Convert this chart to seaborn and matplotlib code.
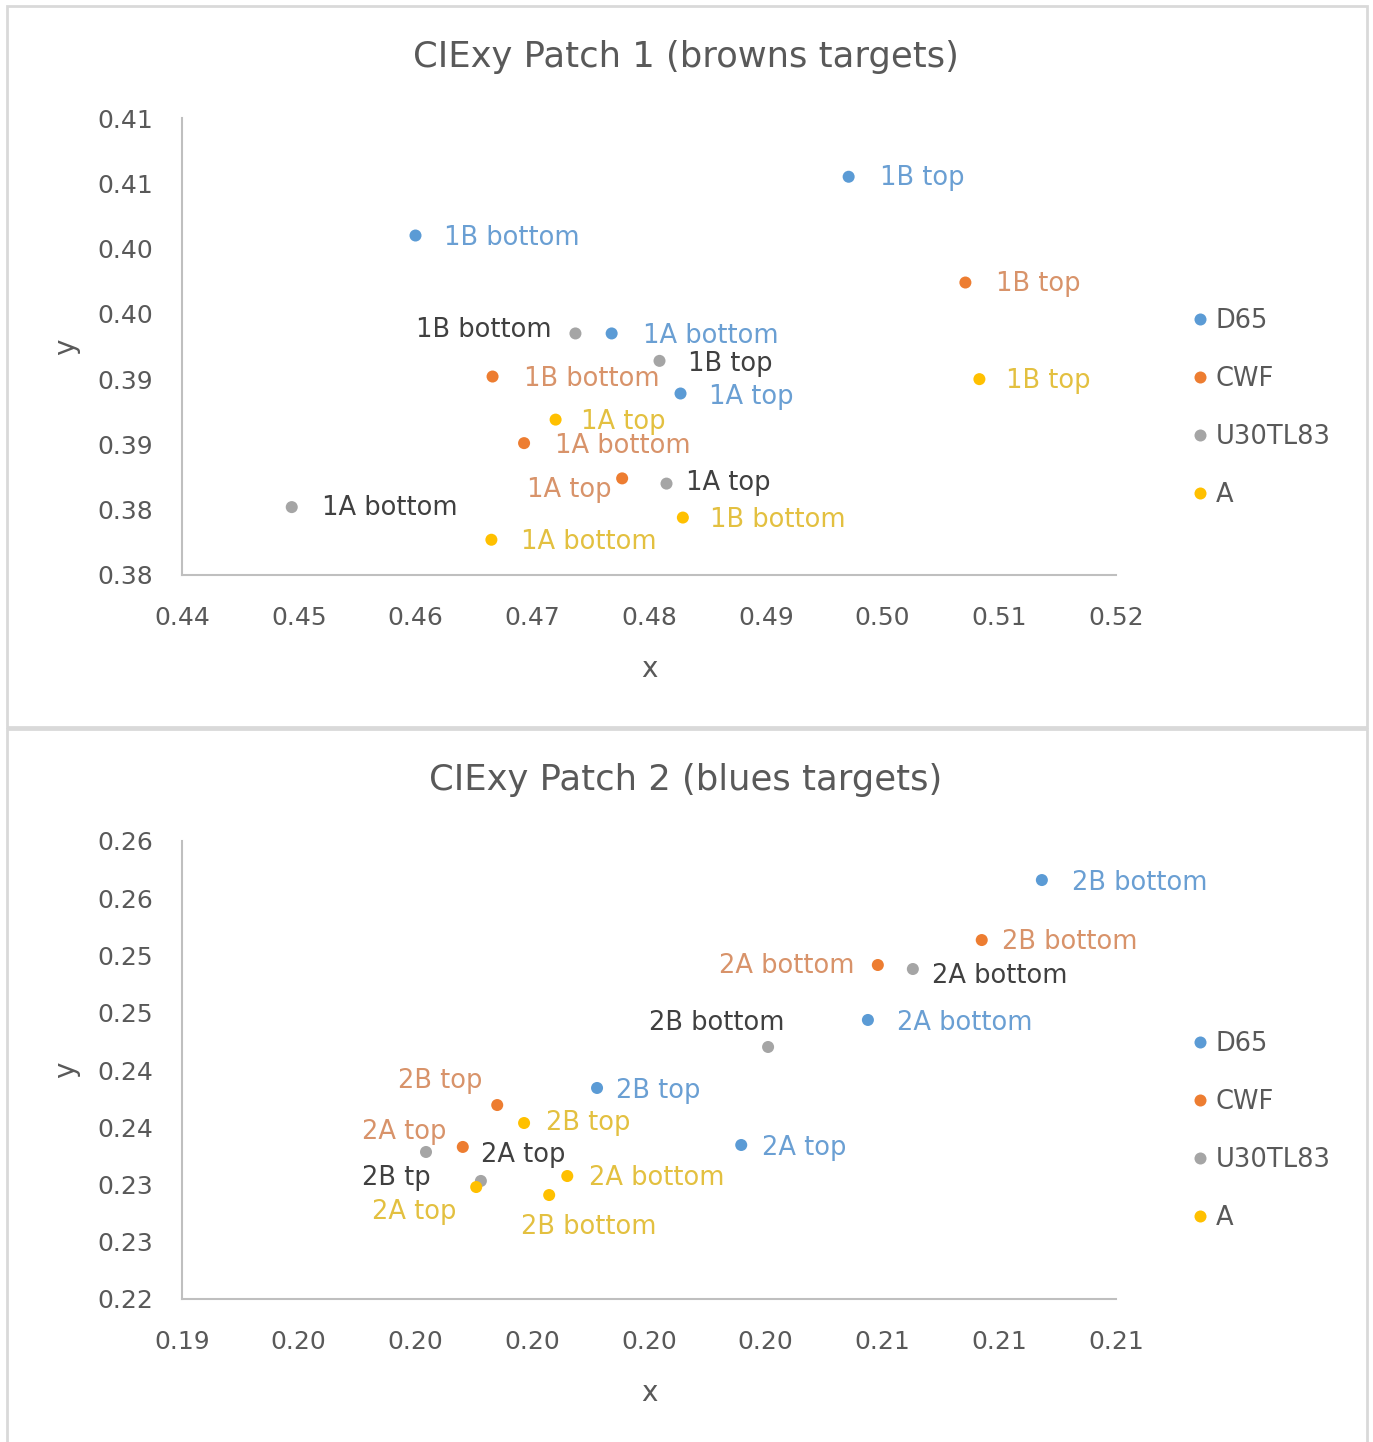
import matplotlib
matplotlib.use("Agg")
import matplotlib.pyplot as plt
from matplotlib.patches import Rectangle
import numpy as np
import pandas as pd
import seaborn as sns

# ---------------- data ----------------
illuminants = ["D65", "CWF", "U30TL83", "A"]
colors = ["#5B9BD5", "#ED7D31", "#A5A5A5", "#FFC000"]
label_colors = ["#6A9FD3", "#D8936A", "#404040", "#E3C040"]

# Patch 1 (browns targets)
p1_illum = ["D65"] * 4 + ["CWF"] * 4 + ["U30TL83"] * 4 + ["A"] * 4
p1_names = ["1B top", "1B bottom", "1A bottom", "1A top",
            "1B top", "1B bottom", "1A bottom", "1A top",
            "1B bottom", "1B top", "1A top", "1A bottom",
            "1B top", "1A top", "1B bottom", "1A bottom"]
p1_x = [0.4971, 0.4600, 0.4768, 0.4827,
        0.5071, 0.4666, 0.4693, 0.4777,
        0.4737, 0.4809, 0.4815, 0.4494,
        0.5083, 0.4720, 0.4829, 0.4665]
p1_y = [0.4055, 0.4010, 0.3935, 0.3889,
        0.3974, 0.3902, 0.3851, 0.3824,
        0.3935, 0.3914, 0.3820, 0.3802,
        0.3900, 0.3869, 0.3794, 0.3777]
p1_xticks = [0.44, 0.45, 0.46, 0.47, 0.48, 0.49, 0.50, 0.51, 0.52]
p1_xticklabels = ["0.44", "0.45", "0.46", "0.47", "0.48", "0.49", "0.50", "0.51", "0.52"]
p1_yticks = [0.375, 0.380, 0.385, 0.390, 0.395, 0.400, 0.405, 0.410]
p1_yticklabels = ["0.38", "0.38", "0.39", "0.39", "0.40", "0.40", "0.41", "0.41"]

# Patch 2 (blues targets)
p2_illum = ["D65"] * 4 + ["CWF"] * 4 + ["U30TL83"] * 4 + ["A"] * 4
p2_names = ["2B bottom", "2A bottom", "2B top", "2A top",
            "2B bottom", "2A bottom", "2B top", "2A top",
            "2A bottom", "2B bottom", "2B tp", "2A top",
            "2B top", "2A bottom", "2A top", "2B bottom"]
p2_x = [0.20873, 0.20575, 0.20111, 0.20358,
        0.20770, 0.20592, 0.19940, 0.19881,
        0.20652, 0.20404, 0.19818, 0.19912,
        0.19986, 0.20060, 0.19904, 0.20029]
p2_y = [0.25659, 0.24437, 0.23843, 0.23345,
        0.25135, 0.24917, 0.23694, 0.23328,
        0.24882, 0.24201, 0.23284, 0.23031,
        0.23537, 0.23074, 0.22978, 0.22908]
p2_xticks = [0.194, 0.196, 0.198, 0.200, 0.202, 0.204, 0.206, 0.208, 0.210]
p2_xticklabels = ["0.19", "0.20", "0.20", "0.20", "0.20", "0.20", "0.21", "0.21", "0.21"]
p2_yticks = [0.220, 0.225, 0.230, 0.235, 0.240, 0.245, 0.250, 0.255, 0.260]
p2_yticklabels = ["0.22", "0.23", "0.23", "0.24", "0.24", "0.25", "0.25", "0.26", "0.26"]

# label placement (ha, dx px, dy px)
p1_offsets = [("left", 31, -1), ("left", 28, -2), ("left", 31, -3), ("left", 28, -3),
              ("left", 31, -1), ("left", 31, -2), ("left", 31, -3), ("right", -11, -12),
              ("right", -24, 3), ("left", 28, -3), ("left", 19, 1), ("left", 30, -1),
              ("left", 27, -2), ("left", 25, -2), ("left", 27, -2), ("left", 30, -2)]
p2_offsets = [("left", 30, -3), ("left", 29, -3), ("left", 19, -3), ("left", 21, -3),
              ("left", 20, -2), ("right", -23, -1), ("right", -15, 24), ("right", -16, 15),
              ("left", 19, -7), ("right", 16, 24), ("right", 5, -26), ("left", 0, 26),
              ("left", 22, 0), ("left", 22, -2), ("right", -20, -25), ("left", -28, -32)]

# ---------------- style ----------------
sns.set_theme(style="white")
plt.rcParams["font.family"] = ["DejaVu Sans"]
GREY = "#595959"
W, H = 1373, 1442
fig = plt.figure(figsize=(W / 100, H / 100), dpi=100)
fig.patch.set_facecolor("white")

# panel frames
for (x0, y0, x1, y1) in [(7, 6, 1367, 727), (7, 729, 1367, 1445)]:
    fig.patches.append(Rectangle((x0 / W, 1 - y1 / H), (x1 - x0) / W, (y1 - y0) / H,
                                 transform=fig.transFigure, fill=False,
                                 ec="#D9D9D9", lw=2, zorder=0))

pal = dict(zip(illuminants, colors))
lab_col = dict(zip(illuminants, label_colors))


def draw(ax, names, xs, ys, illum, offsets, xticks, xtl, yticks, ytl, title,
         title_y, leg_y):
    df = pd.DataFrame({"name": names, "x": xs, "y": ys, "illum": illum})
    sns.scatterplot(data=df, x="x", y="y", hue="illum", hue_order=illuminants,
                    palette=pal, s=75, edgecolor="none", ax=ax, legend=True,
                    zorder=3)
    for (n, xv, yv, il), (ha, dx, dy) in zip(zip(names, xs, ys, illum), offsets):
        ax.annotate(n, (xv, yv), xytext=(dx, dy), textcoords="offset pixels",
                    ha=ha, va="center", color=lab_col[il], fontsize=18.5, zorder=4)
    ax.set_xlim(xticks[0], xticks[-1])
    ax.set_ylim(yticks[0], yticks[-1])
    ax.set_xticks(xticks)
    ax.set_xticklabels(xtl)
    ax.set_yticks(yticks)
    ax.set_yticklabels(ytl)
    ax.tick_params(axis="both", length=0, labelsize=18, colors=GREY)
    ax.tick_params(axis="x", pad=22)
    ax.tick_params(axis="y", pad=21)
    for s in ["top", "right"]:
        ax.spines[s].set_visible(False)
    for s in ["left", "bottom"]:
        ax.spines[s].set_color("#BFBFBF")
        ax.spines[s].set_linewidth(1.5)
    ax.set_xlabel("x", fontsize=20, color=GREY, labelpad=18)
    ax.set_ylabel("y", fontsize=20, color=GREY, labelpad=12)
    ax.grid(False)
    fig.text(686 / W, 1 - title_y / H, title, ha="center", va="center",
             fontsize=25.5, color=GREY)
    h, l = ax.get_legend_handles_labels()
    ax.legend(h, l, loc="upper left", bbox_to_anchor=(1172 / W, 1 - leg_y / H),
              bbox_transform=fig.transFigure, frameon=False, fontsize=18.5,
              labelspacing=1.25, handletextpad=0.0, handlelength=1.2,
              borderpad=0, markerscale=1.0, labelcolor=GREY)


ax1 = fig.add_axes([182 / W, 1 - 575 / H, 934 / W, 457 / H])
ax2 = fig.add_axes([182 / W, 1 - 1299 / H, 934 / W, 458 / H])

draw(ax1, p1_names, p1_x, p1_y, p1_illum, p1_offsets, p1_xticks, p1_xticklabels,
     p1_yticks, p1_yticklabels, "CIExy Patch 1 (browns targets)", 57, 295)
draw(ax2, p2_names, p2_x, p2_y, p2_illum, p2_offsets, p2_xticks, p2_xticklabels,
     p2_yticks, p2_yticklabels, "CIExy Patch 2 (blues targets)", 780, 1018)

fig.savefig("out.png", dpi=100, facecolor="white")
